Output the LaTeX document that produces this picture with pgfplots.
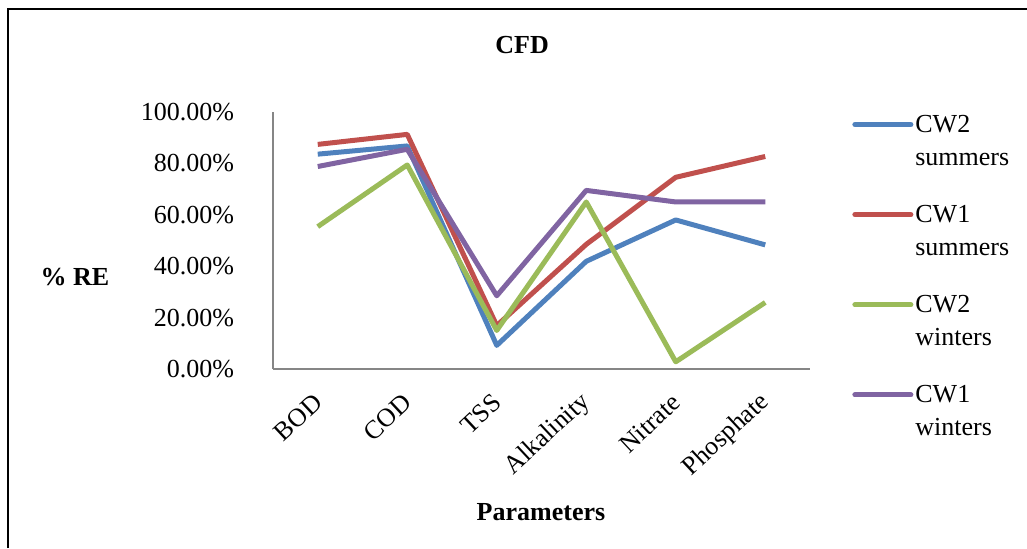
\documentclass[border=0pt]{standalone}
\usepackage{pgfplots}
\pgfplotsset{compat=1.18}
\usepackage{fontspec}
\setmainfont{Liberation Serif}

\definecolor{cwblue}{HTML}{4F81BD}
\definecolor{cwred}{HTML}{C0504D}
\definecolor{cwgreen}{HTML}{9BBB59}
\definecolor{cwpurple}{HTML}{8064A2}
\definecolor{axisgray}{HTML}{868686}

% removal efficiency (%) per parameter: BOD, COD, TSS, Alkalinity, Nitrate, Phosphate
\pgfplotstableread{
x  cw2s  cw1s  cw2w  cw1w
0  83.6  87.4  55.4  78.8
1  86.8  91.3  79.4  85.5
2   9.2  16.9  15.0  28.5
3  41.9  48.5  65.0  69.5
4  58.0  74.6   2.8  65.0
5  48.3  82.7  25.9  65.0
}\cfddata

\begin{document}
\begin{tikzpicture}
\useasboundingbox (0,0) rectangle (513.5pt,-274pt);
\draw[line width=1pt] (4pt,-274pt) -- (4pt,-4.5pt) -- (513.5pt,-4.5pt);
\begin{axis}[
    at={(136.5pt,-184.5pt)}, anchor=south west,
    scale only axis,
    width=268.5pt, height=128.5pt,
    font=\fontsize{13}{16.5}\selectfont,
    xmin=-0.5, xmax=5.5,
    ymin=0, ymax=100,
    xtick={0,1,2,3,4,5},
    xticklabels={BOD,COD,TSS,Alkalinity,Nitrate,Phosphate},
    ytick={0,20,40,60,80,100},
    yticklabel={\pgfmathprintnumber[fixed,fixed zerofill,precision=2]{\tick}\%},
    /pgf/number format/assume math mode=true,
    axis x line=bottom, axis y line=left,
    axis line style={axisgray, line width=0.75pt, -},
    major tick length=0pt,
    xticklabel style={rotate=43, anchor=east, yshift=-11pt, xshift=-6.5pt},
    yticklabel style={xshift=-16pt},
    title={\textbf{CFD}},
    title style={at={(axis description cs:0.464,1.213)}, anchor=center},
    xlabel={\textbf{Parameters}},
    xlabel style={at={(axis description cs:0.499,-0.556)}, anchor=center},
    ylabel={\textbf{\% RE}},
    ylabel style={at={(axis description cs:-0.369,0.358)}, anchor=center, rotate=-90},
    legend style={at={(axis description cs:1.067,1.035)}, anchor=north west,
        draw=none, fill=none, row sep=30pt,
        nodes={anchor=base west, inner sep=1pt}},
    legend image code/.code={\draw[#1, line cap=round] (0pt,4pt) -- (28pt,4pt);},
    every axis plot/.append style={line width=2.5pt, line join=round, mark=none},
]
\addplot[cwblue] table[x=x, y=cw2s] {\cfddata};
\addlegendentry{\begin{tabular}[t]{@{}l@{}}CW2\\summers\end{tabular}}
\addplot[cwred] table[x=x, y=cw1s] {\cfddata};
\addlegendentry{\begin{tabular}[t]{@{}l@{}}CW1\\summers\end{tabular}}
\addplot[cwgreen] table[x=x, y=cw2w] {\cfddata};
\addlegendentry{\begin{tabular}[t]{@{}l@{}}CW2\\winters\end{tabular}}
\addplot[cwpurple] table[x=x, y=cw1w] {\cfddata};
\addlegendentry{\begin{tabular}[t]{@{}l@{}}CW1\\winters\end{tabular}}
\end{axis}
\end{tikzpicture}
\end{document}
